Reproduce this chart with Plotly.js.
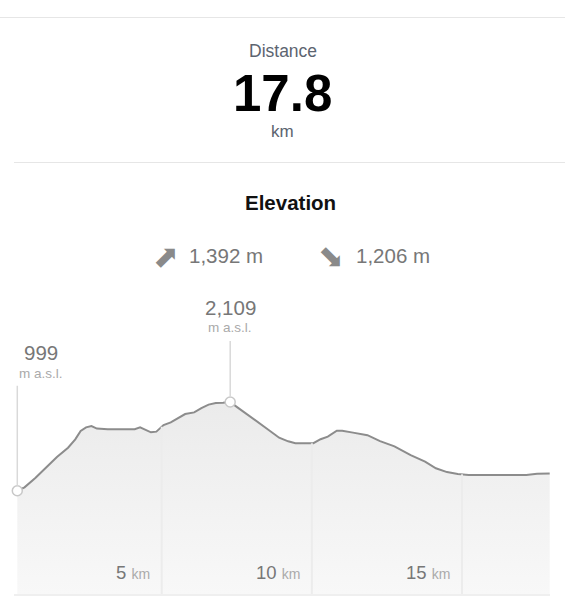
<!DOCTYPE html>
<html>
<head>
<meta charset="utf-8">
<script src="https://cdn.plot.ly/plotly-3.0.1.min.js"></script>
<style>
  html, body { margin: 0; padding: 0; background: #ffffff; }
  #chart { width: 565px; height: 607px; }
</style>
</head>
<body>
<div id="chart"></div>
<script>
// ---- data ----
const distKm = [0.19,0.43,0.79,1.15,1.51,1.88,2.12,2.30,2.48,2.66,2.84,3.20,3.68,4.10,4.28,4.46,4.64,4.82,5.06,5.30,5.54,5.78,6.08,6.32,6.56,6.80,7.04,7.28,7.52,7.88,8.25,8.55,8.91,9.21,9.45,9.75,10.05,10.29,10.53,10.83,11.01,11.37,11.85,12.27,12.75,13.29,13.77,14.13,14.50,14.86,15.22,16.42,17.14,17.50,17.92];
const elevM  = [999,1041,1159,1293,1420,1537,1642,1748,1792,1808,1776,1768,1768,1768,1792,1758,1730,1738,1820,1854,1907,1958,1979,2033,2076,2097,2101,2109,2042,1940,1836,1762,1662,1617,1593,1589,1593,1643,1676,1750,1750,1726,1694,1620,1554,1445,1362,1280,1232,1208,1197,1197,1197,1210,1214];
const kmTicks = [5, 10, 15];
const totalDistance = "17.8";
const ascentM = 1392;
const descentM = 1206;

// ---- helpers ----
const fmt = v => v.toLocaleString('en-US');
function interp(x) {
  for (let i = 1; i < distKm.length; i++) {
    if (x <= distKm[i]) {
      const t = (x - distKm[i-1]) / (distKm[i] - distKm[i-1]);
      return elevM[i-1] + t * (elevM[i] - elevM[i-1]);
    }
  }
  return elevM[elevM.length - 1];
}
const iStart = 0;
const iPeak = elevM.indexOf(Math.max(...elevM));

const Y_MIN = -293, Y_MAX = 3510;
const X_RANGE = [0.08, 17.93];

// plot area geometry helpers (paper coords)
const PLOT_H = 304, PLOT_BOTTOM = 594, PLOT_L = 14, PLOT_W = 536;
const yp = y => (PLOT_BOTTOM - y) / PLOT_H;
const xp = x => (x - PLOT_L) / PLOT_W;

const FONT = 'Liberation Sans, Arial, Helvetica, sans-serif';

// grid segments beneath the curve, from the data
const gx = [], gy = [];
kmTicks.forEach(k => { gx.push(k, k, null); gy.push(Y_MIN, interp(k), null); });

const traces = [
  { // baseline for the area fill
    x: [distKm[0], distKm[distKm.length-1]], y: [Y_MIN, Y_MIN],
    mode: 'lines', line: {width: 0, color: 'rgba(0,0,0,0)'}, hoverinfo: 'skip', showlegend: false
  },
  { // elevation profile
    x: distKm, y: elevM, mode: 'lines', fill: 'tonexty',
    fillgradient: {type: 'vertical', start: Y_MIN, stop: Math.max(...elevM),
                   colorscale: [[0, '#f8f8f8'], [1, '#ebebeb']]},
    line: {color: '#8c8c8c', width: 2}, hoverinfo: 'skip', showlegend: false
  },
  { // km grid lines below the curve
    x: gx, y: gy, mode: 'lines', line: {color: '#ececec', width: 2},
    hoverinfo: 'skip', showlegend: false
  },
  { // start / peak markers
    x: [distKm[iStart], distKm[iPeak]], y: [elevM[iStart], elevM[iPeak]],
    mode: 'markers', marker: {size: 10, color: '#ffffff', line: {color: '#c8c8c8', width: 1.5}},
    hoverinfo: 'skip', showlegend: false, cliponaxis: false
  }
];

const annotations = [
  {xref:'paper', yref:'paper', x: 0.501, y: yp(51), text: 'Distance', showarrow: false,
   font: {family: FONT, size: 17.5, color: '#5c6470'}, xanchor: 'center', yanchor: 'middle'},
  {xref:'paper', yref:'paper', x: 0.501, y: yp(93), text: '<b>' + totalDistance + '</b>', showarrow: false,
   font: {family: FONT, size: 51, color: '#000000'}, xanchor: 'center', yanchor: 'middle'},
  {xref:'paper', yref:'paper', x: 0.501, y: yp(131), text: 'km', showarrow: false,
   font: {family: FONT, size: 17, color: '#5c6470'}, xanchor: 'center', yanchor: 'middle'},
  {xref:'paper', yref:'paper', x: xp(290), y: yp(202), text: '<b>Elevation</b>', showarrow: false,
   font: {family: FONT, size: 20.5, color: '#111111'}, xanchor: 'center', yanchor: 'middle'},
  {xref:'paper', yref:'paper', x: xp(165.5), y: yp(256), text: '⬈', showarrow: false,
   font: {family: 'DejaVu Sans', size: 31, color: '#8a8a8a'}, xanchor: 'center', yanchor: 'middle'},
  {xref:'paper', yref:'paper', x: xp(187), y: yp(256), text: fmt(ascentM) + ' m', showarrow: false,
   font: {family: FONT, size: 20.5, color: '#777777'}, xanchor: 'left', yanchor: 'middle'},
  {xref:'paper', yref:'paper', x: xp(331), y: yp(256), text: '⬊', showarrow: false,
   font: {family: 'DejaVu Sans', size: 31, color: '#8a8a8a'}, xanchor: 'center', yanchor: 'middle'},
  {xref:'paper', yref:'paper', x: xp(354), y: yp(256), text: fmt(descentM) + ' m', showarrow: false,
   font: {family: FONT, size: 20.5, color: '#777777'}, xanchor: 'left', yanchor: 'middle'},
  // leader lines from markers
  {xref:'x', yref:'y', x: distKm[iStart], y: elevM[iStart], text: ' ', showarrow: true,
   arrowhead: 0, arrowwidth: 1.5, arrowcolor: '#d9d9d9', ax: 0, ay: -107, standoff: 5,
   font: {size: 1}},
  {xref:'x', yref:'y', x: distKm[iPeak], y: elevM[iPeak], text: ' ', showarrow: true,
   arrowhead: 0, arrowwidth: 1.5, arrowcolor: '#d9d9d9', ax: 0, ay: -63, standoff: 5,
   font: {size: 1}},
  // value labels
  {xref:'x', yref:'paper', x: distKm[iStart], y: yp(352), xshift: 24, text: fmt(elevM[iStart]), showarrow: false,
   font: {family: FONT, size: 20.5, color: '#777777'}, xanchor: 'center', yanchor: 'middle'},
  {xref:'x', yref:'paper', x: distKm[iStart], y: yp(373), xshift: 24, text: 'm a.s.l.', showarrow: false,
   font: {family: FONT, size: 13.5, color: '#aaaaaa'}, xanchor: 'center', yanchor: 'middle'},
  {xref:'x', yref:'paper', x: distKm[iPeak], y: yp(307), text: fmt(elevM[iPeak]), showarrow: false,
   font: {family: FONT, size: 20.5, color: '#777777'}, xanchor: 'center', yanchor: 'middle'},
  {xref:'x', yref:'paper', x: distKm[iPeak], y: yp(327), text: 'm a.s.l.', showarrow: false,
   font: {family: FONT, size: 13.5, color: '#aaaaaa'}, xanchor: 'center', yanchor: 'middle'}
];
kmTicks.forEach(k => annotations.push({
  xref:'x', yref:'paper', x: k, y: yp(572), xshift: -10, xanchor: 'right', yanchor: 'middle',
  text: k + ' <span style="font-size:14px;color:#aaaaaa">km</span>', showarrow: false,
  font: {family: FONT, size: 18.5, color: '#777777'}
}));

const shapes = [
  {type:'line', xref:'paper', yref:'paper', x0: xp(0), x1: xp(565), y0: yp(17.5), y1: yp(17.5),
   line: {color: '#e6e6e6', width: 1}},
  {type:'line', xref:'paper', yref:'paper', x0: xp(14), x1: xp(565), y0: yp(162.5), y1: yp(162.5),
   line: {color: '#e6e6e6', width: 1}}
];

const layout = {
  width: 565, height: 607,
  margin: {l: 14, r: 15, t: 290, b: 13, pad: 0},
  paper_bgcolor: '#ffffff', plot_bgcolor: '#ffffff',
  showlegend: false, hovermode: false,
  xaxis: {range: X_RANGE, showgrid: false, zeroline: false, showticklabels: false,
          ticks: '', showline: true, linecolor: '#efefef', linewidth: 2, fixedrange: true},
  yaxis: {range: [Y_MIN, Y_MAX], showgrid: false, zeroline: false, showticklabels: false,
          ticks: '', showline: false, fixedrange: true},
  annotations: annotations,
  shapes: shapes
};

Plotly.newPlot('chart', traces, layout, {displayModeBar: false, staticPlot: true});
</script>
</body>
</html>
